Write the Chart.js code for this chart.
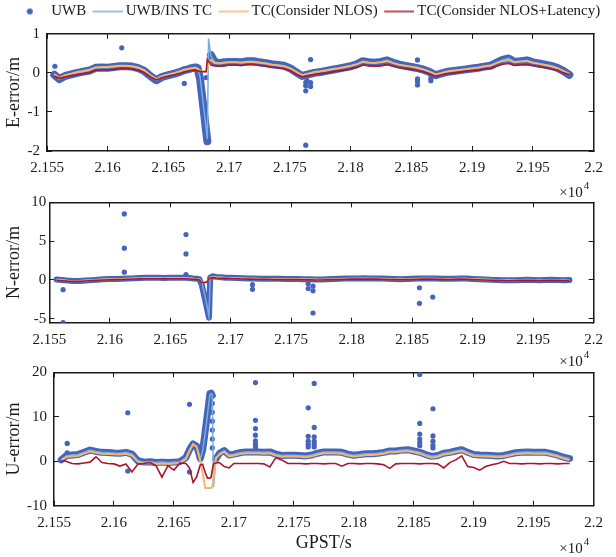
<!DOCTYPE html>
<html>
<head>
<meta charset="utf-8">
<script src="https://cdn.jsdelivr.net/npm/chart.js@4.4.1/dist/chart.umd.min.js"></script>
<style>
  html, body { margin: 0; padding: 0; background: #fff; }
  #wrap { position: relative; width: 616px; height: 557px; }
  #wrap canvas { position: absolute; left: 0; top: 0; }
</style>
</head>
<body>
<div id="wrap">
  <canvas id="chartE" width="616" height="557"></canvas>
  <canvas id="chartN" width="616" height="557"></canvas>
  <canvas id="chartU" width="616" height="557"></canvas>
</div>
<script>
// sample epochs (GPST, s)
const gpst = [
  21556, 21560, 21565, 21570, 21575, 21580, 21585, 21590, 21595, 21600,
  21605, 21610, 21615, 21620, 21625, 21630, 21635, 21640, 21645, 21650,
  21655, 21660, 21663, 21666, 21669, 21672, 21674, 21676, 21678, 21680,
  21681, 21682, 21683, 21685, 21688, 21692, 21696, 21700, 21705, 21710,
  21715, 21720, 21725, 21730, 21735, 21740, 21745, 21750, 21755, 21760,
  21765, 21770, 21775, 21780, 21785, 21790, 21795, 21800, 21805, 21810,
  21815, 21820, 21825, 21830, 21835, 21840, 21845, 21850, 21855, 21860,
  21865, 21870, 21875, 21880, 21885, 21890, 21895, 21900, 21905, 21910,
  21915, 21920, 21925, 21930, 21935, 21940, 21945, 21950, 21955, 21960,
  21965, 21970, 21975, 21980
];

// ---- East error (m)
const eUwb = [
  -0.05, -0.16, -0.08, -0.04, 0.0, 0.03, 0.06, 0.13, 0.14, 0.13,
  0.15, 0.17, 0.17, 0.16, 0.12, 0.05, -0.08, -0.19, -0.1, -0.06,
  -0.02, 0.03, 0.07, 0.09, 0.12, 0.14, 0.12, -0.16, -0.69, -1.22,
  -1.49, -1.75, null, 0.45, 0.28, 0.25, 0.27, 0.28, 0.28, 0.27,
  0.3, 0.3, 0.27, 0.25, 0.22, 0.2, 0.18, 0.12, 0.02, -0.08,
  -0.04, 0.0, 0.02, 0.05, 0.08, 0.11, 0.14, 0.17, 0.22, 0.3,
  0.27, 0.26, 0.28, 0.32, 0.26, 0.21, 0.18, 0.15, 0.12, 0.08,
  0.02, -0.06, -0.01, 0.03, 0.05, 0.07, 0.09, 0.11, 0.13, 0.16,
  0.18, 0.26, 0.33, 0.37, 0.28, 0.3, 0.32, 0.27, 0.24, 0.21,
  0.18, 0.13, 0.05, -0.05
];
const eTc = [
  -0.05, -0.16, -0.08, -0.04, 0.0, 0.03, 0.06, 0.13, 0.14, 0.13,
  0.15, 0.17, 0.17, 0.16, 0.12, 0.05, -0.08, -0.19, -0.1, -0.06,
  -0.02, 0.03, 0.07, 0.09, 0.12, 0.14, 0.12, -0.1, -0.62, -1.15,
  -1.42, -1.7, 0.88, 0.42, 0.28, 0.25, 0.27, 0.28, 0.28, 0.27,
  0.3, 0.3, 0.27, 0.25, 0.22, 0.2, 0.18, 0.12, 0.02, -0.08,
  -0.04, 0.0, 0.02, 0.05, 0.08, 0.11, 0.14, 0.17, 0.22, 0.3,
  0.27, 0.26, 0.28, 0.32, 0.26, 0.21, 0.18, 0.15, 0.12, 0.08,
  0.02, -0.06, -0.01, 0.03, 0.05, 0.07, 0.09, 0.11, 0.13, 0.16,
  0.18, 0.26, 0.33, 0.37, 0.28, 0.3, 0.32, 0.27, 0.24, 0.21,
  0.18, 0.13, 0.05, -0.05
];
const eNlos = [
  -0.03, -0.13, -0.06, -0.02, 0.02, 0.05, 0.08, 0.14, 0.15, 0.15,
  0.17, 0.18, 0.18, 0.17, 0.14, 0.07, -0.06, -0.16, -0.08, -0.04,
  0.0, 0.05, 0.08, 0.1, 0.12, 0.13, 0.1, 0.06, 0.05, 0.04,
  0.04, 0.06, 0.3, 0.33, 0.25, 0.24, 0.26, 0.27, 0.27, 0.26,
  0.28, 0.28, 0.26, 0.24, 0.21, 0.19, 0.17, 0.12, 0.03, -0.06,
  -0.02, 0.02, 0.04, 0.07, 0.1, 0.12, 0.15, 0.18, 0.22, 0.28,
  0.26, 0.25, 0.27, 0.3, 0.25, 0.21, 0.18, 0.16, 0.13, 0.09,
  0.03, -0.04, 0.0, 0.04, 0.06, 0.08, 0.1, 0.12, 0.14, 0.17,
  0.19, 0.25, 0.3, 0.33, 0.27, 0.29, 0.3, 0.26, 0.23, 0.2,
  0.17, 0.12, 0.05, -0.02
];
const eLat = [
  -0.08, -0.14, -0.1, -0.07, -0.04, -0.02, 0.01, 0.07, 0.08, 0.08,
  0.09, 0.11, 0.11, 0.1, 0.07, 0.01, -0.1, -0.18, -0.12, -0.08,
  -0.05, -0.01, 0.02, 0.04, 0.06, 0.07, 0.05, 0.04, 0.03, 0.03,
  0.03, 0.35, 0.3, 0.2, 0.18, 0.17, 0.18, 0.2, 0.2, 0.19,
  0.21, 0.21, 0.19, 0.17, 0.15, 0.13, 0.11, 0.06, -0.03, -0.1,
  -0.07, -0.04, -0.02, 0.0, 0.03, 0.05, 0.07, 0.1, 0.14, 0.2,
  0.18, 0.17, 0.18, 0.21, 0.17, 0.13, 0.11, 0.09, 0.06, 0.03,
  -0.02, -0.09, -0.05, -0.02, 0.0, 0.02, 0.04, 0.06, 0.07, 0.1,
  0.11, 0.17, 0.22, 0.24, 0.19, 0.2, 0.21, 0.18, 0.16, 0.13,
  0.1, 0.07, 0.0, -0.04
];
const eOut = [
  [21556.5, 0.17], [21611.5, 0.64], [21663, -0.27], [21681, -0.12],
  [21763, -0.46], [21763, -1.85], [21763, -0.25], [21763, -0.33], [21764, -0.2],
  [21767, 0.34], [21767, -0.25], [21767, -0.35],
  [21855, 0.33], [21855, -0.31], [21855, -0.15], [21855, -0.22],
  [21866, -0.2], [21866, -0.14]
];

// ---- North error (m)
const nUwb = [
  0.05, 0.0, -0.08, -0.12, -0.13, -0.08, -0.02, 0.03, 0.08, 0.12,
  0.13, 0.16, 0.2, 0.22, 0.26, 0.3, 0.3, 0.28, 0.26, 0.28,
  0.3, 0.3, 0.28, 0.25, 0.2, 0.17, 0.1, -0.6, -2.0, -3.4,
  -4.1, -4.85, 0.3, 0.48, 0.4, 0.35, 0.3, 0.28, 0.25, 0.22,
  0.2, 0.18, 0.17, 0.17, 0.15, 0.15, 0.14, 0.13, 0.12, 0.1,
  0.08, 0.06, 0.05, 0.08, 0.12, 0.15, 0.18, 0.2, 0.2, 0.22,
  0.2, 0.2, 0.18, 0.15, 0.12, 0.1, 0.12, 0.15, 0.18, 0.2,
  0.2, 0.18, 0.16, 0.15, 0.17, 0.2, 0.18, 0.14, 0.1, 0.06,
  0.02, 0.0, -0.03, -0.05, -0.02, 0.0, 0.02, 0.0, -0.02, 0.0,
  0.02, 0.0, -0.02, 0.0
];
const nTc = [
  0.05, 0.0, -0.08, -0.12, -0.13, -0.08, -0.02, 0.03, 0.08, 0.12,
  0.13, 0.16, 0.2, 0.22, 0.26, 0.3, 0.3, 0.28, 0.26, 0.28,
  0.3, 0.3, 0.28, 0.25, 0.2, 0.17, 0.1, -0.2, -1.6, -3.0,
  -3.8, -4.7, 0.3, 0.45, 0.4, 0.35, 0.3, 0.28, 0.25, 0.22,
  0.2, 0.18, 0.17, 0.17, 0.15, 0.15, 0.14, 0.13, 0.12, 0.1,
  0.08, 0.06, 0.05, 0.08, 0.12, 0.15, 0.18, 0.2, 0.2, 0.22,
  0.2, 0.2, 0.18, 0.15, 0.12, 0.1, 0.12, 0.15, 0.18, 0.2,
  0.2, 0.18, 0.16, 0.15, 0.17, 0.2, 0.18, 0.14, 0.1, 0.06,
  0.02, 0.0, -0.03, -0.05, -0.02, 0.0, 0.02, 0.0, -0.02, 0.0,
  0.02, 0.0, -0.02, 0.0
];
const nNlos = [
  0.0, -0.05, -0.1, -0.12, -0.12, -0.08, -0.03, 0.02, 0.06, 0.09,
  0.1, 0.13, 0.16, 0.18, 0.2, 0.23, 0.23, 0.22, 0.2, 0.22,
  0.23, 0.23, 0.22, 0.2, 0.16, 0.14, 0.05, -0.25, -0.3, -0.2,
  -0.1, 0.0, 0.3, 0.38, 0.32, 0.28, 0.25, 0.22, 0.2, 0.18,
  0.16, 0.15, 0.14, 0.14, 0.12, 0.12, 0.11, 0.1, 0.09, 0.08,
  0.06, 0.05, 0.04, 0.06, 0.09, 0.12, 0.14, 0.16, 0.16, 0.17,
  0.16, 0.16, 0.14, 0.12, 0.1, 0.08, 0.1, 0.12, 0.14, 0.16,
  0.16, 0.14, 0.13, 0.12, 0.14, 0.16, 0.14, 0.11, 0.08, 0.05,
  0.02, 0.0, -0.02, -0.04, -0.02, 0.0, 0.02, 0.0, -0.01, 0.0,
  0.01, 0.0, -0.01, 0.0
];
const nLat = [
  -0.05, -0.1, -0.15, -0.17, -0.17, -0.13, -0.08, -0.03, 0.0, 0.03,
  0.05, 0.07, 0.1, 0.12, 0.14, 0.16, 0.16, 0.15, 0.14, 0.15,
  0.16, 0.16, 0.15, 0.13, 0.1, 0.08, 0.0, -0.3, -0.35, -0.25,
  -0.15, 0.1, 0.25, 0.3, 0.25, 0.22, 0.2, 0.17, 0.15, 0.13,
  0.11, 0.1, 0.09, 0.09, 0.07, 0.07, 0.06, 0.05, 0.04, 0.03,
  0.01, 0.0, -0.01, 0.01, 0.04, 0.07, 0.09, 0.11, 0.11, 0.12,
  0.11, 0.11, 0.09, 0.07, 0.05, 0.03, 0.05, 0.07, 0.09, 0.11,
  0.11, 0.09, 0.08, 0.07, 0.09, 0.11, 0.09, 0.06, 0.03, 0.0,
  -0.03, -0.05, -0.07, -0.09, -0.07, -0.05, -0.03, -0.05, -0.06, -0.05,
  -0.04, -0.05, -0.06, -0.05
];
const nOut = [
  [21561.4, -1.25], [21561.4, -5.5], [21612, 8.5], [21612, 4.1], [21612, 1.0],
  [21663, 5.85], [21663, 3.35], [21663, 0.7], [21682, -2.5],
  [21718, -1.2], [21718, -0.6], [21764, -1.1], [21764, -0.5],
  [21768, -0.8], [21768, -1.4], [21768, -4.25],
  [21856, -1.0], [21856, -3.0], [21867, -2.2]
];

// ---- Up error (m)
const uUwb = [
  0.3, 1.2, 1.4, 1.5, 2.0, 2.5, 2.2, 2.0, 1.95, 1.85,
  1.8, 2.0, 1.6, 0.1, -0.2, -0.1, -0.3, -0.2, -0.3, -0.2,
  -0.1, 0.8, 2.6, 3.9, 3.4, 0.6, 2.5, 6.5, 10.8, 15.2,
  15.3, 14.8, null, 0.5, 1.8, 2.4, 1.4, 1.6, 1.9, 2.1,
  2.1, 2.1, 2.0, 2.1, 1.6, 1.3, 1.35, 1.35, 1.3, 1.2,
  1.4, 1.8, 2.1, 2.1, 2.1, 2.0, 1.6, 1.35, 1.5, 1.7,
  1.7, 1.8, 2.0, 2.3, 2.3, 2.5, 2.6, 2.3, 2.0, 1.5,
  1.1, 1.3, 1.8, 2.0, 2.3, 2.6, 2.0, 1.5, 1.4, 1.35,
  1.3, 1.2, 1.3, 1.6, 1.9, 2.0, 2.1, 2.0, 2.0, 2.0,
  1.7, 1.35, 0.9, 0.6
];
const uTc = [
  0.3, 1.2, 1.4, 1.5, 2.0, 2.5, 2.2, 2.0, 1.95, 1.85,
  1.8, 2.0, 1.6, 0.1, -0.2, -0.1, -0.3, -0.2, -0.3, -0.2,
  -0.1, 0.8, 2.6, 3.9, 3.4, 0.6, 2.3, 6.2, 10.5, 14.9,
  15.2, 15.0, -5.8, 0.3, 1.8, 2.4, 1.4, 1.6, 1.9, 2.1,
  2.1, 2.1, 2.0, 2.1, 1.6, 1.3, 1.35, 1.35, 1.3, 1.2,
  1.4, 1.8, 2.1, 2.1, 2.1, 2.0, 1.6, 1.35, 1.5, 1.7,
  1.7, 1.8, 2.0, 2.3, 2.3, 2.5, 2.6, 2.3, 2.0, 1.5,
  1.1, 1.3, 1.8, 2.0, 2.3, 2.6, 2.0, 1.5, 1.4, 1.35,
  1.3, 1.2, 1.3, 1.6, 1.9, 2.0, 2.1, 2.0, 2.0, 2.0,
  1.7, 1.35, 0.9, 0.6
];
const uNlos = [
  0.2, 0.9, 1.1, 1.2, 1.7, 2.2, 1.9, 1.7, 1.65, 1.55,
  1.5, 1.7, 1.3, -0.1, -0.5, -0.4, -0.6, -0.5, -0.6, -0.5,
  -0.4, 0.5, 2.3, 3.8, 3.2, 0.0, -2.5, -6.0, -6.0, -6.0,
  -6.0, -5.8, -4.0, 0.8, 1.5, 2.1, 1.1, 1.3, 1.6, 1.8,
  1.8, 1.8, 1.7, 1.8, 1.3, 1.0, 1.05, 1.05, 1.0, 0.9,
  1.1, 1.5, 1.8, 1.8, 1.8, 1.7, 1.3, 1.05, 1.2, 1.4,
  1.4, 1.5, 1.7, 2.0, 2.0, 2.2, 2.3, 2.0, 1.7, 1.2,
  0.8, 1.0, 1.5, 1.7, 2.0, 2.3, 1.7, 1.2, 1.1, 1.05,
  1.0, 0.9, 1.0, 1.3, 1.6, 1.7, 1.8, 1.7, 1.7, 1.7,
  1.4, 1.05, 0.6, 0.3
];
const uLat = [
  0.1, 0.0, -0.5, -0.6, -0.4, -0.2, 1.0, -0.3, -0.5, -0.6,
  -1.1, -0.6, -2.4, -0.6, -0.5, -0.3, -1.0, -3.6, -1.0, -2.0,
  -0.4, -0.5, -1.5, -4.8, -3.5, -0.8, -0.7, -2.5, -3.8, -3.8,
  -3.6, -2.0, -0.6, -0.4, -0.3, -1.2, -1.5, -0.5, -0.5, -0.5,
  -0.5, -0.5, -0.6, -1.3, 0.8, 0.3, -0.5, -0.5, -0.5, -0.6,
  -0.5, -0.5, -0.6, -0.5, -0.5, -1.1, -0.5, -0.5, -0.6, -0.5,
  -0.5, -0.6, -0.8, -1.6, -0.6, -0.5, -0.5, -0.5, -0.6, -0.5,
  -0.5, -0.6, -1.5, -0.3, 0.3, 1.2, -1.2, -1.4, -2.0, -1.2,
  -0.8, -0.5, 0.0, -0.5, -0.5, -0.6, -0.5, -0.5, -0.6, -0.5,
  -0.5, -0.6, -0.5, -0.5
];
const uOut = [
  [21561, 4.0], [21561, 1.9], [21611.5, 10.9], [21611.5, -2.2],
  [21663, 12.8], [21663, -2.4],
  [21682, 13], [21682, 11], [21682, 9], [21682, 7], [21682, 5], [21682, 3],
  [21718, 17.7], [21718, 9.2], [21718, 7.35], [21718, 5.85], [21718, 4.6], [21718, 3.8], [21718, 3.2], [21718, 2.7],
  [21762, 12.0], [21762, 5.6], [21762, 4.5], [21762, 3.8], [21762, 3.2],
  [21767, 17.5], [21767, 7.6], [21767, 5.5], [21767, 4.5], [21767, 3.8], [21767, 3.2],
  [21855, 19.5], [21855, 8.5], [21855, 6.1], [21855, 5.0], [21855, 4.2], [21855, 3.5],
  [21866, 11.8], [21866, 5.7], [21866, 4.5], [21866, 3.6], [21866, 3.0]
];

const seriesNames = ['UWB', 'UWB/INS TC', 'TC(Consider NLOS)', 'TC(Consider NLOS+Latency)'];

const serif = "'Times New Roman', 'Liberation Serif', serif";
const ink = '#1a1a1a';
const colUwb = '#4565bb';
const colTc = '#78aedd';
const colNlos = '#f6b56c';
const colLat = '#a6172d';

function pts(arr) { return gpst.map((x, i) => ({ x: x, y: arr[i] })); }
function dots(list) { return list.map(p => ({ x: p[0], y: p[1] })); }

// legend symbols
function symbol(kind, color) {
  const c = document.createElement('canvas');
  const g = c.getContext('2d');
  if (kind === 'dot') {
    c.width = 8; c.height = 8;
    g.fillStyle = color;
    g.beginPath(); g.arc(4, 4, 3, 0, Math.PI * 2); g.fill();
  } else {
    c.width = 37; c.height = 4;
    g.strokeStyle = color; g.lineWidth = 1.5;
    g.beginPath(); g.moveTo(7, 2); g.lineTo(37, 2); g.stroke();
  }
  return c;
}
const legendSymbols = [symbol('dot', colUwb), symbol('line', colTc), symbol('line', colNlos), symbol('line', colLat)];

const expPlugin = {
  id: 'exp',
  afterDraw(chart, args, opts) {
    const ctx = chart.ctx, a = chart.chartArea;
    ctx.save();
    ctx.fillStyle = ink;
    ctx.textBaseline = 'alphabetic';
    ctx.textAlign = 'right';
    ctx.font = '15px ' + serif;
    ctx.fillText('\u00d710', a.right - 11, a.bottom + opts.dy);
    ctx.textAlign = 'left';
    ctx.font = '11px ' + serif;
    ctx.fillText('4', a.right - 10, a.bottom + opts.dy - 8);
    ctx.restore();
  }
};

function edgeAxis(axis, pos, min, max, step, size) {
  return {
    type: 'linear', axis: axis, position: pos, min: min, max: max,
    ticks: { display: false, stepSize: step, includeBounds: false },
    grid: { drawOnChartArea: false, drawTicks: true, tickLength: -5, color: ink, lineWidth: 1 },
    border: { display: true, color: ink, width: 1.5 },
    afterFit: s => { if (axis === 'x') s.height = size; else s.width = size; }
  };
}

function makeChart(id, c) {
  const datasets = [
    { type: 'line', label: seriesNames[3], data: pts(c.lat), borderColor: colLat, borderWidth: 1.6, pointRadius: 0, order: 0 },
    { type: 'line', label: seriesNames[2], data: pts(c.nlos), borderColor: colNlos, borderWidth: 2, pointRadius: 0, order: 1 },
    { type: 'line', label: seriesNames[1], data: pts(c.tc), borderColor: colTc, borderWidth: 1.5, pointRadius: 0, order: 2 },
    { type: 'scatter', label: 'UWB outliers', data: dots(c.out), backgroundColor: colUwb, borderWidth: 0, pointRadius: 2.6, order: 3 },
    { type: 'line', label: seriesNames[0], data: pts(c.uwb), borderColor: colUwb, borderWidth: c.band,
      borderCapStyle: 'round', borderJoinStyle: 'round', pointRadius: 0, order: 4 }
  ];
  return new Chart(document.getElementById(id), {
    type: 'line',
    data: { datasets: datasets },
    plugins: [expPlugin],
    options: {
      responsive: false,
      animation: false,
      events: [],
      layout: { autoPadding: false, padding: { top: c.padTop, right: 0, bottom: c.padBottom, left: 0 } },
      plugins: {
        tooltip: { enabled: false },
        exp: { dy: c.expDy },
        legend: {
          display: c.legend,
          position: 'top',
          labels: {
            usePointStyle: true,
            pointStyleWidth: 28,
            padding: 4,
            color: ink,
            font: { family: serif, size: 15 },
            generateLabels: () => seriesNames.map((name, i) => ({
              text: name, pointStyle: legendSymbols[i], fillStyle: 'rgba(0,0,0,0)',
              strokeStyle: 'rgba(0,0,0,0)', lineWidth: 0, hidden: false, fontColor: ink, datasetIndex: 4 - i
            }))
          }
        }
      },
      scales: {
        x: {
          type: 'linear', position: 'bottom', min: 21550, max: 22000,
          ticks: {
            stepSize: 50, autoSkip: false, maxRotation: 0, padding: c.xTickPad, color: ink,
            font: { family: serif, size: 15 },
            callback: v => String(Math.round(v) / 10000)
          },
          grid: { drawOnChartArea: false, drawTicks: true, tickLength: -5, color: ink, lineWidth: 1 },
          border: { display: true, color: ink, width: 1.5 },
          title: { display: !!c.xTitle, text: c.xTitle || '', color: ink, font: { family: serif, size: 18 }, padding: { top: 0, bottom: 3 } },
          afterFit: s => { s.height = c.xHeight; }
        },
        x2: edgeAxis('x', 'top', 21550, 22000, 50, c.topGap),
        y: {
          type: 'linear', position: 'left', min: c.yMin, max: c.yMax,
          ticks: { stepSize: c.yStep, includeBounds: false, padding: c.yTickPad, color: ink, font: { family: serif, size: 15 } },
          grid: { drawOnChartArea: false, drawTicks: true, tickLength: -5, color: ink, lineWidth: 1 },
          border: { display: true, color: ink, width: 1.5 },
          title: { display: true, text: c.yTitle, color: ink, font: { family: serif, size: 18 }, padding: { top: 3, bottom: 0 } },
          afterFit: s => { s.width = c.left; }
        },
        y2: edgeAxis('y', 'right', c.yMin, c.yMax, c.yStep, 11)
      }
    }
  });
}

makeChart('chartE', {
  uwb: eUwb, tc: eTc, nlos: eNlos, lat: eLat, out: eOut,
  yTitle: 'E-error/m', yMin: -2, yMax: 1, yStep: 1, band: 8,
  legend: true, padTop: 0, topGap: 4.8, padBottom: 376, xHeight: 30,
  left: 47, yTickPad: 12, xTickPad: 13, expDy: 46
});
makeChart('chartN', {
  uwb: nUwb, tc: nTc, nlos: nNlos, lat: nLat, out: nOut,
  yTitle: 'N-error/m', yMin: -5.5, yMax: 10, yStep: 5, band: 6,
  legend: false, padTop: 202.3, topGap: 0, padBottom: 204.3, xHeight: 30,
  left: 49.3, yTickPad: 8, xTickPad: 13, expDy: 43
});
makeChart('chartU', {
  uwb: uUwb, tc: uTc, nlos: uNlos, lat: uLat, out: uOut,
  yTitle: 'U-error/m', yMin: -10, yMax: 20, yStep: 10, band: 7,
  legend: false, padTop: 372.3, topGap: 0, padBottom: 0, xHeight: 51.3,
  left: 54, yTickPad: 12, xTickPad: 13, expDy: 47, xTitle: 'GPST/s'
});
</script>
</body>
</html>
